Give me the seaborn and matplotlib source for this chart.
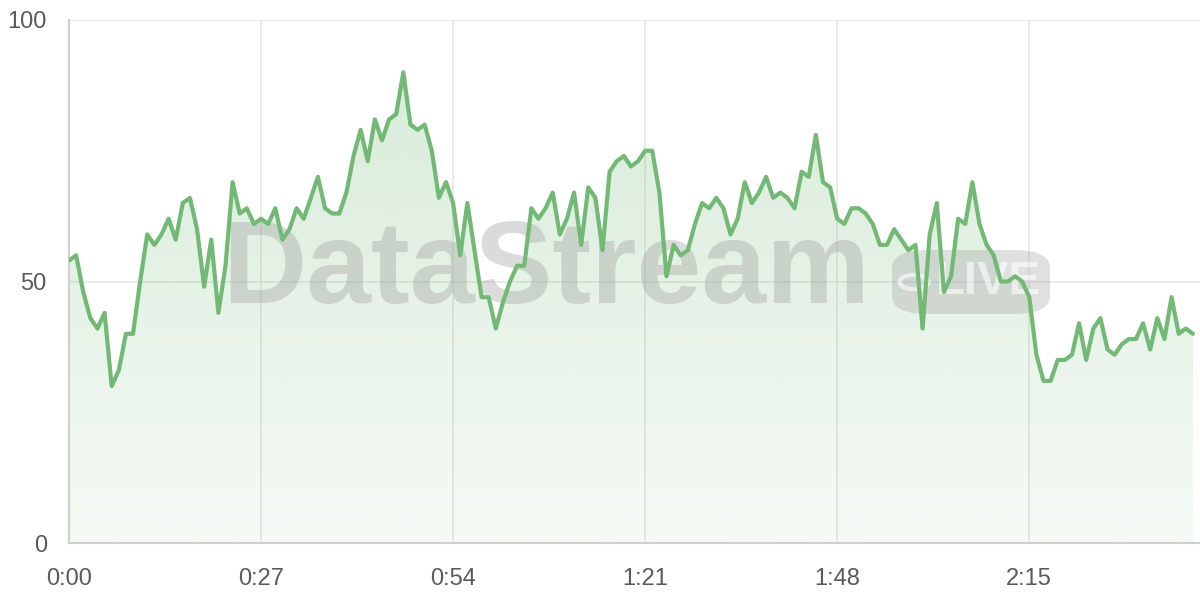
import numpy as np
import seaborn as sns
import matplotlib.pyplot as plt
from matplotlib.patches import Polygon, FancyBboxPatch, Circle

# readings, one per second
seconds = list(range(159))
values = [54, 55, 48, 43, 41, 44, 30, 33, 40, 40,
          50, 59, 57, 59, 62, 58, 65, 66, 60, 49,
          58, 44, 53, 69, 63, 64, 61, 62, 61, 64,
          58, 60, 64, 62, 66, 70, 64, 63, 63, 67,
          74, 79, 73, 81, 77, 81, 82, 90, 80, 79,
          80, 75, 66, 69, 65, 55, 65, 56, 47, 47,
          41, 46, 50, 53, 53, 64, 62, 64, 67, 59,
          62, 67, 57, 68, 66, 56, 71, 73, 74, 72,
          73, 75, 75, 67, 51, 57, 55, 56, 61, 65,
          64, 66, 64, 59, 62, 69, 65, 67, 70, 66,
          67, 66, 64, 71, 70, 78, 69, 68, 62, 61,
          64, 64, 63, 61, 57, 57, 60, 58, 56, 57,
          41, 59, 65, 48, 51, 62, 61, 69, 61, 57,
          55, 50, 50, 51, 50, 47, 36, 31, 31, 35,
          35, 36, 42, 35, 41, 43, 37, 36, 38, 39,
          39, 42, 37, 43, 39, 47, 40, 41, 40]

x_ticks = [0, 27, 54, 81, 108, 135]
x_labels = ['0:00', '0:27', '0:54', '1:21', '1:48', '2:15']
y_ticks = [0, 50, 100]
y_labels = ['0', '50', '100']

green = '#72b975'

sns.set_style('white')
plt.rcParams['font.family'] = ['Liberation Sans', 'DejaVu Sans']

fig = plt.figure(figsize=(12, 6), dpi=100)
ax = fig.add_axes([69 / 1200, 57 / 600, 1131 / 1200, 523 / 600])

# gradient fill under the line
grad = np.zeros((256, 1, 4))
grad[:, 0, 0] = 115 / 255
grad[:, 0, 1] = 185 / 255
grad[:, 0, 2] = 120 / 255
grad[:, 0, 3] = np.linspace(0.07, 0.30, 256)
img = ax.imshow(grad, extent=[seconds[0], seconds[-1], 0, 100], origin='lower',
                aspect='auto', zorder=1)
poly = Polygon([(seconds[0], 0)] + list(zip(seconds, values)) + [(seconds[-1], 0)],
               closed=True, facecolor='none', edgecolor='none')
ax.add_patch(poly)
img.set_clip_path(poly)

sns.lineplot(x=seconds, y=values, ax=ax, color=green, linewidth=3, zorder=4)

ax.set_xlim(0, 159)
ax.set_ylim(0, 100)
ax.set_xticks(x_ticks)
ax.set_xticklabels(x_labels)
ax.set_yticks(y_ticks)
ax.set_yticklabels(y_labels)
ax.grid(True, color='#e8e8e8', linewidth=1.2, zorder=0)
ax.set_axisbelow(True)
for side in ['top', 'right']:
    ax.spines[side].set_visible(False)
for side in ['left', 'bottom']:
    ax.spines[side].set_color('#cfcfcf')
    ax.spines[side].set_linewidth(1.5)
ax.tick_params(axis='both', length=9, width=1.2, color='#e0e0e0',
               labelsize=17, labelcolor='#5a5a5a')
ax.tick_params(axis='x', pad=9)
ax.tick_params(axis='y', pad=7)

# watermark, drawn between the fill and the line
ax.text(546 / 1200, 1 - 272 / 600, 'DataStream', fontsize=84, fontweight='bold',
        color='#9a9a9a', alpha=0.35, ha='center', va='center', zorder=2,
        transform=fig.transFigure)
badge = FancyBboxPatch((892 / 1200, 1 - 314 / 600), 158 / 1200, 64 / 600,
                       boxstyle='round,pad=0,rounding_size=0.03',
                       transform=fig.transFigure, facecolor='#9a9a9a',
                       edgecolor='none', alpha=0.3, zorder=2, clip_on=False)
ax.add_patch(badge)
ring = Circle((914 / 1200, 1 - 282 / 600), 0.012, transform=fig.transFigure,
              facecolor='none', edgecolor='white', linewidth=3, alpha=0.6,
              zorder=3, clip_on=False)
ax.add_patch(ring)
ax.text(988 / 1200, 1 - 282 / 600, 'LIVE', fontsize=34, fontweight='bold',
        color='white', alpha=0.6, ha='center', va='center', zorder=3,
        transform=fig.transFigure)

fig.savefig('out.png', dpi=100)
